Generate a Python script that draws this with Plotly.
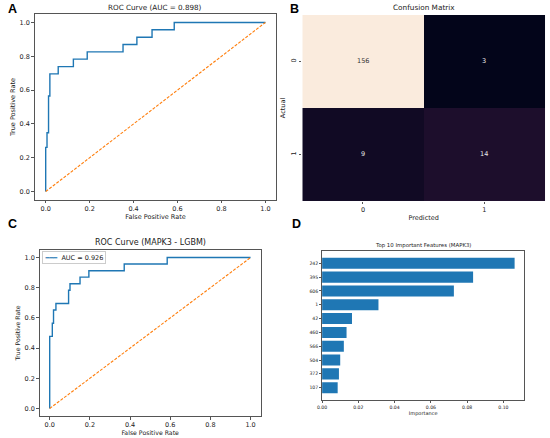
import plotly.graph_objects as go

# panel A - ROC curve
fpr_a = [0.0, 0.0, 0.006, 0.006, 0.013, 0.013, 0.019, 0.019, 0.057, 0.057, 0.126, 0.126,
         0.189, 0.189, 0.352, 0.352, 0.415, 0.415, 0.484, 0.484, 0.585, 0.585, 1.0]
tpr_a = [0.0, 0.261, 0.261, 0.348, 0.348, 0.565, 0.565, 0.696, 0.696, 0.739, 0.739, 0.783,
         0.783, 0.826, 0.826, 0.870, 0.870, 0.913, 0.913, 0.957, 0.957, 1.0, 1.0]

# panel B - confusion matrix
cm_labels = ["0", "1"]
cm_values = [[156, 3], [9, 14]]

# panel C - ROC curve MAPK3 LGBM
fpr_c = [0.0, 0.0, 0.013, 0.013, 0.019, 0.019, 0.031, 0.031, 0.094, 0.094, 0.101, 0.101,
         0.151, 0.151, 0.195, 0.195, 0.371, 0.371, 0.585, 0.585, 1.0]
tpr_c = [0.0, 0.478, 0.478, 0.565, 0.565, 0.652, 0.652, 0.696, 0.696, 0.783, 0.783, 0.826,
         0.826, 0.870, 0.870, 0.913, 0.913, 0.957, 0.957, 1.0, 1.0]
auc_c = 0.926

# panel D - feature importance
features = ["242", "395", "606", "1", "42", "460", "566", "504", "372", "107"]
importance = [0.1062, 0.0833, 0.0727, 0.0311, 0.0165, 0.0135, 0.0120, 0.0100, 0.0093, 0.0086]

diag = [0, 1]
blue = "#1f77b4"
orange = "#ff7f0e"
font = "DejaVu Sans"

fig = go.Figure()

fig.add_trace(go.Scatter(x=fpr_a, y=tpr_a, mode="lines", line=dict(color=blue, width=1.4),
                         xaxis="x", yaxis="y", showlegend=False))
fig.add_trace(go.Scatter(x=diag, y=diag, mode="lines",
                         line=dict(color=orange, width=1.1, dash="3px,1.5px"),
                         xaxis="x", yaxis="y", showlegend=False))

rocket = [[0, "#03051a"], [0.2, "#4c1d4b"], [0.4, "#a11a5b"], [0.6, "#e83f3f"],
          [0.8, "#f69c73"], [1, "#faebdd"]]
fig.add_trace(go.Heatmap(z=cm_values, x=cm_labels, y=cm_labels, colorscale=rocket,
                         showscale=False, xaxis="x2", yaxis="y2", xgap=0, ygap=0))

fig.add_trace(go.Scatter(x=fpr_c, y=tpr_c, mode="lines", line=dict(color=blue, width=1.4),
                         xaxis="x3", yaxis="y3", showlegend=False))
fig.add_trace(go.Scatter(x=diag, y=diag, mode="lines",
                         line=dict(color=orange, width=1.1, dash="3px,1.5px"),
                         xaxis="x3", yaxis="y3", showlegend=False))

fig.add_trace(go.Bar(x=importance, y=features, orientation="h", marker=dict(color=blue, line_width=0),
                     width=0.8, xaxis="x4", yaxis="y4", showlegend=False))

frame = dict(showline=True, linecolor="#555", linewidth=1, mirror=True, showgrid=False,
             zeroline=False, ticks="outside", ticklen=2.5, tickcolor="#555", tickwidth=0.8)

roc_ticks = [0, 0.2, 0.4, 0.6, 0.8, 1.0]

fig.update_layout(
    width=550, height=438, margin=dict(l=0, r=0, t=0, b=0),
    paper_bgcolor="white", plot_bgcolor="white", showlegend=False,
    font=dict(family=font, color="#222", size=6.5),
    xaxis=dict(frame, domain=[0.0545, 0.498], range=[-0.05, 1.05], tickvals=roc_ticks,
               tickformat=".1f", anchor="y",
               title=dict(text="False Positive Rate", font=dict(size=6.5), standoff=2)),
    yaxis=dict(frame, domain=[0.5434, 0.968], range=[-0.05, 1.05], tickvals=roc_ticks,
               tickformat=".1f", anchor="x",
               title=dict(text="True Positive Rate", font=dict(size=6.5), standoff=3)),
    xaxis2=dict(frame, domain=[0.5455, 0.9909], range=[-0.5, 1.5], anchor="y2",
                showline=False, mirror=False, type="category",
                title=dict(text="Predicted", font=dict(size=6.5), standoff=2)),
    yaxis2=dict(frame, domain=[0.5411, 0.9658], range=[1.5, -0.5], anchor="x2",
                showline=False, mirror=False, type="category", tickangle=-90,
                title=dict(text="Actual", font=dict(size=6.5), standoff=3)),
    xaxis3=dict(frame, domain=[0.0636, 0.469], range=[-0.05, 1.05], tickvals=roc_ticks,
                tickformat=".1f", anchor="y3",
                title=dict(text="False Positive Rate", font=dict(size=6.2), standoff=2)),
    yaxis3=dict(frame, domain=[0.0502, 0.4292], range=[-0.05, 1.05], tickvals=roc_ticks,
                tickformat=".1f", anchor="x3",
                title=dict(text="True Positive Rate", font=dict(size=6.2), standoff=3)),
    xaxis4=dict(frame, domain=[0.5818, 0.9527], range=[0, 0.1115],
                tickvals=[0, 0.02, 0.04, 0.06, 0.08, 0.10], tickformat=".2f", anchor="y4",
                tickfont=dict(size=4.6), ticklen=2,
                title=dict(text="Importance", font=dict(size=5), standoff=2)),
    yaxis4=dict(frame, domain=[0.0868, 0.4269], range=[9.89, -0.89], anchor="x4",
                type="category", tickfont=dict(size=4.6), ticklen=2),
)

# confusion matrix cell labels
ann = []
for i, row in enumerate(cm_values):
    for j, v in enumerate(row):
        ann.append(dict(x=cm_labels[j], y=cm_labels[i], xref="x2", yref="y2", text=str(v),
                        showarrow=False, font=dict(size=6.5, color="#333" if v > 100 else "#e8e8e8")))

titles = [
    ("ROC Curve (AUC = 0.898)", 0.276, 0.983, 7.2),
    ("Confusion Matrix", 0.7682, 0.983, 7.3),
    ("ROC Curve (MAPK3 - LGBM)", 0.2663, 0.447, 8),
    ("Top 10 Important Features (MAPK3)", 0.7673, 0.44, 5.4),
]
for t, x, y, s in titles:
    ann.append(dict(text=t, x=x, y=y, xref="paper", yref="paper", showarrow=False,
                    xanchor="center", yanchor="middle", font=dict(size=s, color="#222")))

letters = [("A", 0.0145, 0.979), ("B", 0.531, 0.979), ("C", 0.0145, 0.488), ("D", 0.5345, 0.489)]
for t, x, y in letters:
    ann.append(dict(text=f"<b>{t}</b>", x=x, y=y, xref="paper", yref="paper", showarrow=False,
                    xanchor="center", yanchor="middle",
                    font=dict(size=12.5, family="Liberation Sans", color="black")))

# legend box for panel C
ann.append(dict(text=f'<span style="color:{blue}">━━━</span>  AUC = {auc_c:.3f}',
                x=0.0673, y=0.4266, xref="paper", yref="paper", xanchor="left", yanchor="top",
                showarrow=False, bgcolor="white", bordercolor="#ccc", borderwidth=1, borderpad=1.5,
                font=dict(size=6.5, color="#222")))

fig.update_layout(annotations=ann)

fig.write_html("out.html", config={"displayModeBar": False},
               post_script="document.body.style.margin='0';")
